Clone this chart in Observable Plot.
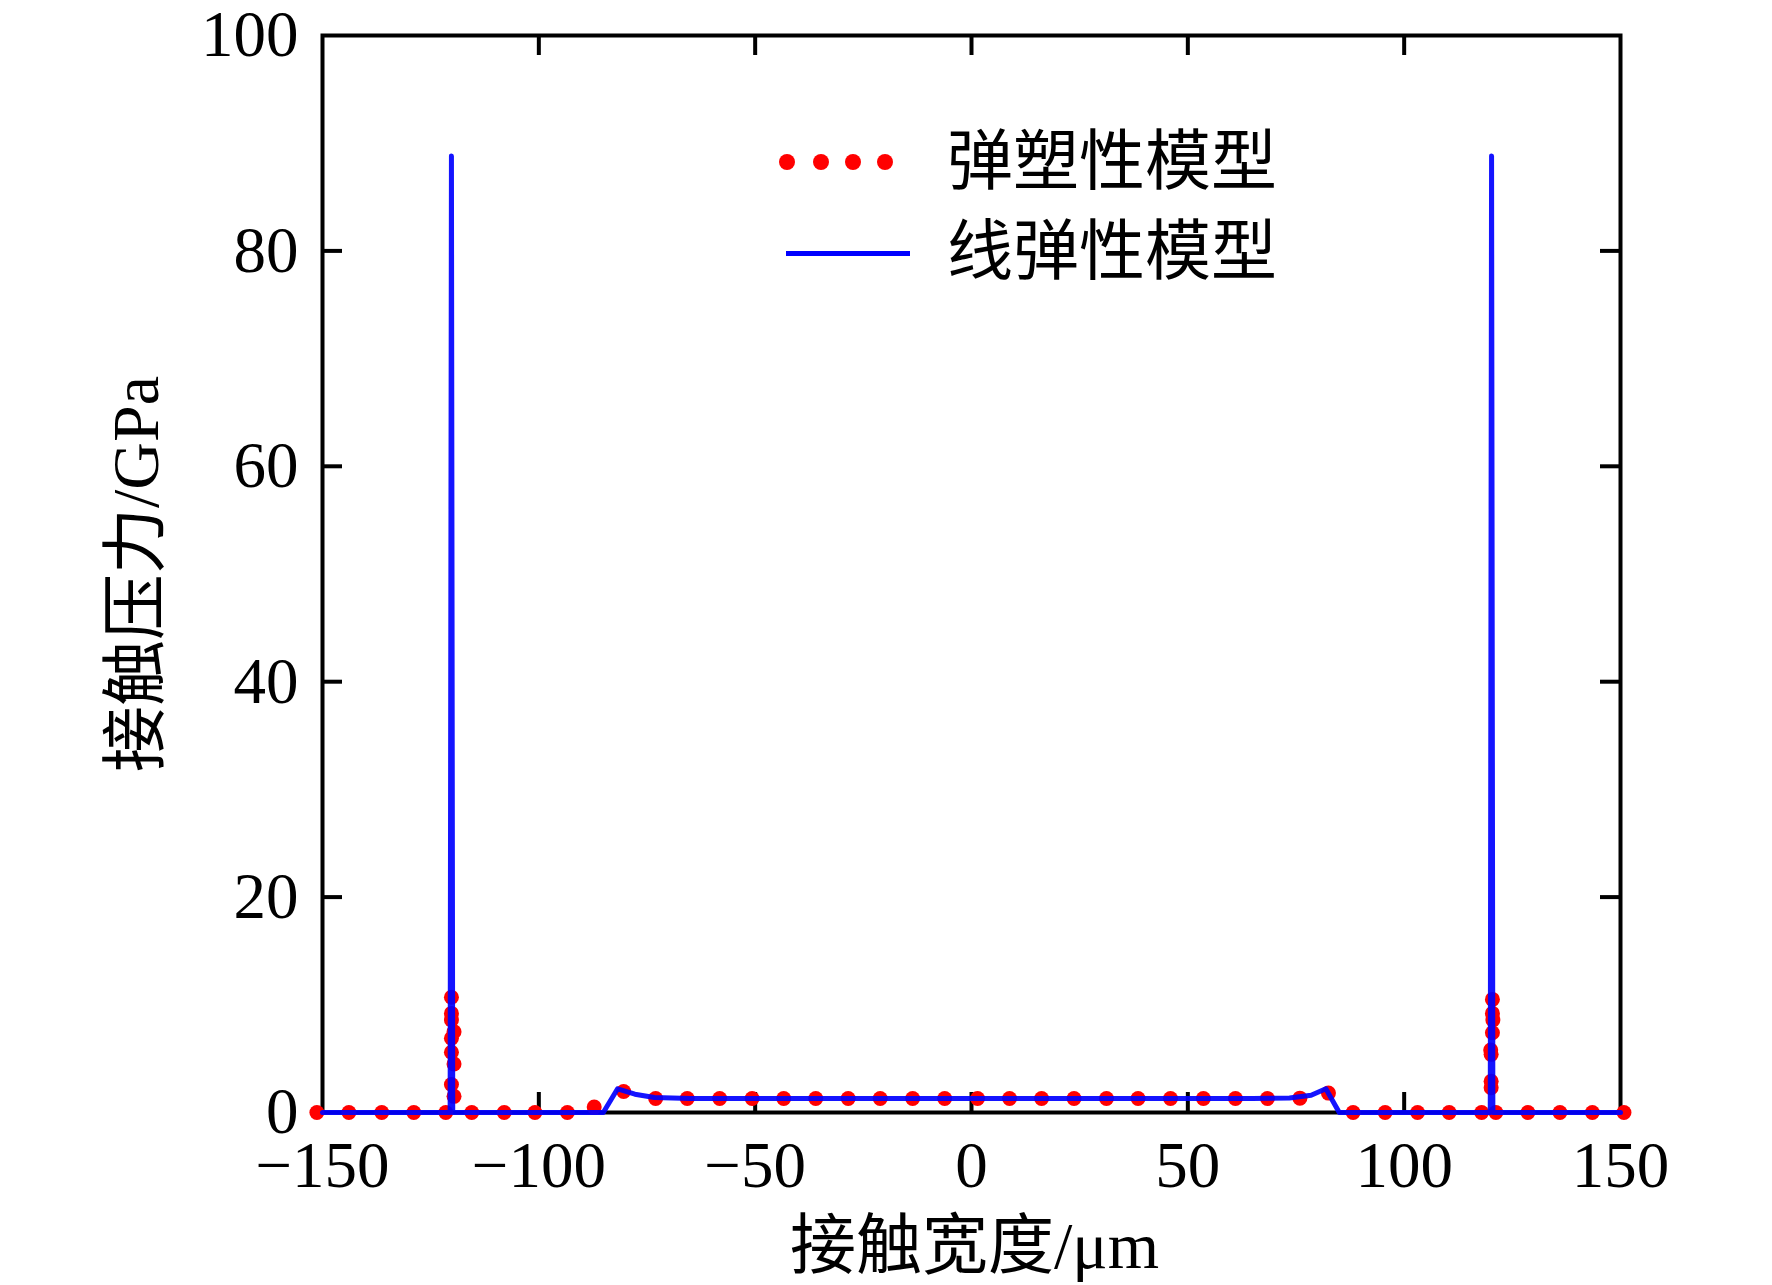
<!DOCTYPE html>
<html><head><meta charset="utf-8">
<script src="https://cdn.jsdelivr.net/npm/d3@7"></script>
<script src="https://cdn.jsdelivr.net/npm/@observablehq/plot@0.6"></script>
<style>
body{margin:0;background:#fff}
#wrap{position:relative;width:1772px;height:1285px}
.legtext{position:absolute;font-family:"Liberation Serif","Noto Sans CJK SC",serif;font-size:66px;line-height:80px;height:80px;color:#000;white-space:nowrap}
.dot{position:absolute;width:16px;height:16px;border-radius:50%;background:#ff0000}
.bline{position:absolute;height:5px;background:#0000ff}
</style></head><body><div id="wrap"></div>
<script>
// ---- data ----
const xTickValues = [-150, -100, -50, 0, 50, 100, 150];
const yTickValues = [0, 20, 40, 60, 80, 100];
const innerXTicks = [-100, -50, 0, 50, 100];
const innerYTicks = [20, 40, 60, 80];

// 弹塑性模型 (red dots)
const plasticX = [-151.3, -143.9, -136.3, -128.9, -121.5,
  -120.2, -120.2, -120.2, -119.6, -120.2, -120.2, -119.6, -120.2, -119.6,
  -115.5, -108.0, -100.9, -93.4, -87.2, -80.4, -73.0,
  -65.7, -58.2, -50.7, -43.4, -36.0, -28.5, -21.1, -13.6, -6.2,
  1.4, 8.8, 16.2, 23.7, 31.2, 38.5, 46.0, 53.6, 61.0, 68.4, 75.9, 82.5,
  88.2, 95.6, 103.1, 110.4, 117.9, 121.2,
  120.4, 120.4, 120.5, 120.4, 120.0, 120.1, 120.1, 120.1,
  128.6, 136.0, 143.5, 150.8];
const plasticY = [0, 0, 0, 0, 0,
  10.7, 9.2, 8.6, 7.5, 6.9, 5.6, 4.5, 2.6, 1.5,
  0, 0, 0, 0, 0.5, 1.95, 1.3,
  1.3, 1.3, 1.3, 1.3, 1.3, 1.3, 1.3, 1.3, 1.3,
  1.3, 1.3, 1.3, 1.3, 1.3, 1.3, 1.3, 1.3, 1.3, 1.3, 1.33, 1.8,
  0, 0, 0, 0, 0, 0,
  10.5, 9.2, 8.6, 7.4, 5.8, 5.4, 2.9, 2.3,
  0, 0, 0, 0];

// 线弹性模型 (blue line)
const elasticX = [-150, -120.5, -120.2, -119.9, -85.1, -81.8, -77.8, -73.3, -65, 0, 65, 73.5, 78.5, 81.9, 85.0, 119.9, 120.2, 120.5, 150];
const elasticY = [0, 0, 88.8, 0, 0, 2.2, 1.7, 1.4, 1.3, 1.3, 1.3, 1.35, 1.6, 2.2, 0, 0, 88.8, 0, 0];

const legendLabels = ["弹塑性模型", "线弹性模型"];
const xLabel = "接触宽度/μm";
const yLabel = "接触压力/GPa";

// ---- build ----
const plastic = plasticX.map((x, i) => ({x, y: plasticY[i]}));
const elastic = elasticX.map((x, i) => ({x, y: elasticY[i]}));

const W = 1772, H = 1285;
const mL = 322, mR = 152, mT = 35, mB = 173;
const innerW = W - mL - mR, innerH = H - mT - mB;
const tickLen = 20;
const font = '"Liberation Serif","Noto Sans CJK SC",serif';
const fmt = d => d < 0 ? "\u2212" + Math.abs(d) : String(d);

const chart = Plot.plot({
  width: W, height: H,
  marginLeft: mL, marginRight: mR, marginTop: mT, marginBottom: mB,
  style: {fontFamily: font, color: "#000", background: "#fff", overflow: "visible"},
  x: {domain: [-150, 150]},
  y: {domain: [0, 100]},
  marks: [
    Plot.frame({stroke: "#000", strokeWidth: 4}),
    Plot.tickX(innerXTicks, {x: d => d, insetTop: innerH - tickLen, stroke: "#000", strokeWidth: 4}),
    Plot.tickX(innerXTicks, {x: d => d, insetBottom: innerH - tickLen, stroke: "#000", strokeWidth: 4}),
    Plot.tickY(innerYTicks, {y: d => d, insetRight: innerW - tickLen, stroke: "#000", strokeWidth: 4}),
    Plot.tickY(innerYTicks, {y: d => d, insetLeft: innerW - tickLen, stroke: "#000", strokeWidth: 4}),
    Plot.axisX({ticks: xTickValues, tickSize: 0, tickPadding: 28, fontSize: 65, fontFamily: font, tickFormat: fmt, label: null}),
    Plot.axisY({ticks: yTickValues, tickSize: 0, tickPadding: 24, fontSize: 65, fontFamily: font, tickFormat: fmt, label: null}),
    Plot.dot(plastic, {x: "x", y: "y", r: 7.5, fill: "#ff0000", stroke: "none"}),
    Plot.line(elastic, {x: "x", y: "y", stroke: "#0000ff", strokeWidth: 5, strokeOpacity: 0.92}),
    Plot.text([xLabel], {text: d => d, frameAnchor: "bottom", textAnchor: "middle", dx: 3, dy: 134, fontSize: 66, fontFamily: font, lineAnchor: "middle", fill: "#000"}),
    Plot.text([yLabel], {text: d => d, frameAnchor: "left", textAnchor: "middle", dx: -186, rotate: -90, fontSize: 66, fontFamily: font, lineAnchor: "middle", fill: "#000"})
  ]
});
const wrap = document.getElementById("wrap");
wrap.appendChild(chart);

// legend (HTML overlay)
[787, 821, 853, 885].forEach(cx => {
  const s = document.createElement("span");
  s.className = "dot";
  s.style.left = (cx - 8) + "px";
  s.style.top = (162 - 8) + "px";
  wrap.appendChild(s);
});
const bl = document.createElement("div");
bl.className = "bline";
bl.style.left = "786px"; bl.style.width = "124px"; bl.style.top = "251px";
wrap.appendChild(bl);
legendLabels.forEach((t, i) => {
  const d = document.createElement("div");
  d.className = "legtext";
  d.textContent = t;
  d.style.left = "947px";
  d.style.top = (i === 0 ? 122 : 212) + "px";
  wrap.appendChild(d);
});
</script></body></html>
